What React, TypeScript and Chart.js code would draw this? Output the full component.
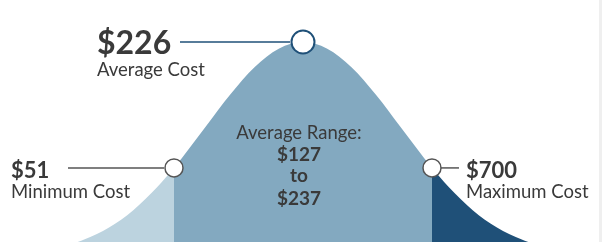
import React, { useEffect, useRef } from "react";
import { Chart, registerables } from "chart.js";

Chart.register(...registerables);

// Bell-curve heights (relative to the peak), x in standard deviations
const leftX = [-3.25, -3, -2.75, -2.5, -2.25, -2, -1.75, -1.5, -1.33];
const leftY = [0.005, 0.011, 0.023, 0.044, 0.08, 0.135, 0.216, 0.325, 0.413];
const midX = [-1.33, -1.25, -1, -0.75, -0.5, -0.25, 0, 0.25, 0.5, 0.75, 1, 1.25, 1.33];
const midY = [0.413, 0.458, 0.607, 0.755, 0.882, 0.969, 1, 0.969, 0.882, 0.755, 0.607, 0.458, 0.413];
const rightX = [1.33, 1.5, 1.75, 2, 2.25, 2.5, 2.75, 3, 3.25];
const rightY = [0.413, 0.325, 0.216, 0.135, 0.08, 0.044, 0.023, 0.011, 0.005];

// Marker points: minimum, average, maximum
const markerX = [-1.33, 0, 1.33];
const markerY = [0.413, 1, 0.413];
const markerValues = ["$51", "$226", "$700"];
const markerLabels = ["Minimum Cost", "Average Cost", "Maximum Cost"];
const rangeTitle = "Average Range:";
const rangeLow = "$127";
const rangeJoin = "to";
const rangeHigh = "$237";

const TEXT = "#3a3a3a";
const FONT = "Lato, 'Open Sans', sans-serif";

const labelsPlugin = {
  id: "costLabels",
  afterDatasetsDraw(chart: any) {
    const ctx = chart.ctx;
    const xs = chart.scales.x;
    const ys = chart.scales.y;
    const pts = markerX.map((x, i) => ({ x: xs.getPixelForValue(x), y: ys.getPixelForValue(markerY[i]) }));
    ctx.save();
    ctx.lineWidth = 1.5;
    // minimum leader
    ctx.strokeStyle = "#555555";
    ctx.beginPath();
    ctx.moveTo(pts[0].x - 106, pts[0].y);
    ctx.lineTo(pts[0].x - 10, pts[0].y);
    ctx.stroke();
    // maximum leader
    ctx.beginPath();
    ctx.moveTo(pts[2].x + 9, pts[2].y);
    ctx.lineTo(pts[2].x + 27, pts[2].y);
    ctx.stroke();
    // average leader
    ctx.strokeStyle = "#1f5078";
    ctx.beginPath();
    ctx.moveTo(pts[1].x - 123, pts[1].y);
    ctx.lineTo(pts[1].x - 13, pts[1].y);
    ctx.stroke();

    ctx.fillStyle = TEXT;
    ctx.textAlign = "left";
    ctx.textBaseline = "alphabetic";
    // average
    ctx.font = `bold 32px ${FONT}`;
    ctx.fillText(markerValues[1], pts[1].x - 206, pts[1].y + 12);
    ctx.font = `18.5px ${FONT}`;
    ctx.fillText(markerLabels[1], pts[1].x - 206, pts[1].y + 34);
    // minimum
    ctx.font = `bold 22px ${FONT}`;
    ctx.fillText(markerValues[0], pts[0].x - 163, pts[0].y + 10);
    ctx.font = `18.5px ${FONT}`;
    ctx.fillText(markerLabels[0], pts[0].x - 163, pts[0].y + 30);
    // maximum
    ctx.font = `bold 22px ${FONT}`;
    ctx.fillText(markerValues[2], pts[2].x + 34, pts[2].y + 10);
    ctx.font = `18.5px ${FONT}`;
    ctx.fillText(markerLabels[2], pts[2].x + 34, pts[2].y + 30);
    // range text
    const cx = (pts[0].x + pts[2].x) / 2 - 4;
    ctx.textAlign = "center";
    ctx.font = `18.5px ${FONT}`;
    ctx.fillText(rangeTitle, cx, 139);
    ctx.font = `bold 19px ${FONT}`;
    ctx.fillText(rangeLow, cx, 161);
    ctx.fillText(rangeJoin, cx, 182);
    ctx.fillText(rangeHigh, cx, 205);
    ctx.restore();
  },
};

export default function App() {
  const ref = useRef<HTMLCanvasElement>(null);
  useEffect(() => {
    document.body.style.margin = "0";
    const toPts = (xs: number[], ys: number[]) => xs.map((x, i) => ({ x, y: ys[i] }));
    const chart = new Chart(ref.current!, {
      type: "line",
      data: {
        datasets: [
          {
            data: toPts(markerX, markerY),
            showLine: false,
            pointRadius: [9, 11.5, 9],
            pointBorderWidth: [1.5, 2, 1.5],
            pointBorderColor: ["#555555", "#1f5078", "#555555"],
            pointBackgroundColor: "#ffffff",
            clip: false,
            order: 0,
          } as any,
          {
            data: toPts(leftX, leftY),
            fill: "start",
            backgroundColor: "#bcd3df",
            borderWidth: 0,
            pointRadius: 0,
            cubicInterpolationMode: "monotone",
            order: 1,
          },
          {
            data: toPts(midX, midY),
            fill: "start",
            backgroundColor: "#83a9c0",
            borderWidth: 0,
            pointRadius: 0,
            cubicInterpolationMode: "monotone",
            order: 1,
          },
          {
            data: toPts(rightX, rightY),
            fill: "start",
            backgroundColor: "#1f5078",
            borderWidth: 0,
            pointRadius: 0,
            cubicInterpolationMode: "monotone",
            order: 1,
          },
        ],
      },
      options: {
        animation: false,
        responsive: false,
        maintainAspectRatio: false,
        layout: { padding: 0, autoPadding: false },
        plugins: { legend: { display: false }, tooltip: { enabled: false } },
        scales: {
          x: { type: "linear", min: -3.124, max: 3.052, display: false },
          y: { type: "linear", min: 0.0676, max: 1.196, display: false },
        },
      },
      plugins: [labelsPlugin],
    });
    return () => chart.destroy();
  }, []);
  return (
    <div style={{ display: "flex", width: 602, height: 242, background: "#ffffff" }}>
      <canvas ref={ref} width={599} height={242} style={{ width: 599, height: 242, display: "block" }} />
      <div style={{ width: 3, height: 242, background: "#efefef" }} />
    </div>
  );
}
